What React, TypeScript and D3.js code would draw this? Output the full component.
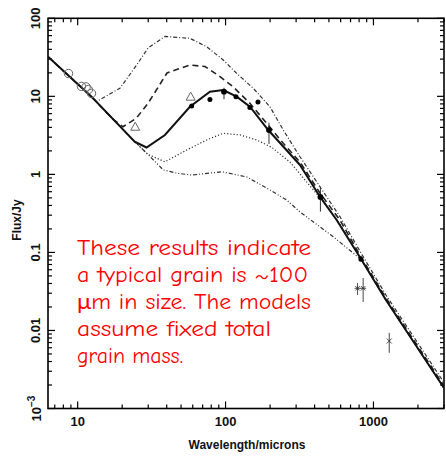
import React from "react";
import * as d3 from "d3";

// ---------- data (wavelength in microns, flux in Jy) ----------
const solidWl = [6.3, 12.4, 24.3, 29.2, 38.9, 57.4, 78.4, 96.5, 118.9, 146.2, 194.4, 318.6, 434.8, 564, 832, 1215, 3000];
const solidFlux = [32.2, 9.9, 2.62, 2.21, 3.2, 7.36, 11.47, 12.06, 9.9, 7.36, 3.7, 1.32, 0.518, 0.26, 0.0799, 0.0246, 0.00183];

const dashedWl = [6.3, 12.4, 17.3, 20.25, 24.9, 29.9, 40.2, 47.7, 57.4, 72.6, 91.7, 112.2, 146.2, 189.7, 245.6, 318.6, 434.8, 593.5, 832, 1215, 3000];
const dashedFlux = [32.2, 9.9, 5.09, 4.08, 5.23, 8.14, 19.9, 22.4, 25.2, 24.1, 17.9, 13.3, 8.14, 4.51, 2.5, 1.44, 0.577, 0.26, 0.0848, 0.026, 0.00195];

const dashDotWl = [6.3, 13.36, 19.3, 24.8, 29.9, 38.9, 57.4, 74.4, 96.5, 118.9, 153.9, 199.6, 245.6, 318.6, 434.8, 593.5, 832, 1215, 3000];
const dashDotFlux = [32.2, 8.54, 12.68, 24.5, 41.6, 58.5, 55.4, 43.3, 29.2, 19.7, 12.68, 7.36, 3.7, 1.68, 0.695, 0.287, 0.0954, 0.0285, 0.00215];

const dottedWl = [6.3, 12.4, 24.3, 29.9, 38.9, 54.6, 74.4, 96.5, 125.2, 162.3, 206, 272.6, 344.3, 448.6, 593.5, 832, 1215, 3000];
const dottedFlux = [32.2, 9.9, 2.62, 1.8, 1.45, 2.05, 2.76, 3.36, 3.2, 2.76, 2.21, 1.44, 0.847, 0.469, 0.231, 0.0799, 0.0246, 0.00183];

const lowestWl = [6.3, 12.4, 24.3, 29.9, 37.9, 47.7, 59.0, 94.6, 139.5, 199.6, 259, 318.6, 534.8, 832, 1215, 3000];
const lowestFlux = [32.2, 9.9, 2.62, 1.8, 1.14, 1.03, 0.98, 1.08, 0.926, 0.631, 0.469, 0.33, 0.159, 0.0799, 0.0246, 0.00183];

// observations
const circleWl = [8.67, 10.6, 11.4, 11.8, 12.4];
const circleFlux = [19.6, 13.4, 13.2, 12.2, 10.9];

const triangleWl = [24.5, 58.1];
const triangleFlux = [4.08, 9.9];

const dotWl = [59.0, 78.4, 97.6, 117.6, 146, 165.6, 196.6, 438, 823];
const dotFlux = [7.52, 9.11, 11.47, 9.9, 7.19, 8.46, 3.7, 0.513, 0.0817];
const dotErrLo = [null, null, 9.17, null, null, null, 2.45, 0.333, null];
const dotErrHi = [null, null, 12.9, null, null, null, 4.59, 0.695, null];

const starWl = [781, 852];
const starFlux = [0.0347, 0.0347];
const starErrLo = [0.0285, 0.0232];
const starErrHi = [0.0406, 0.047];

const crossWl = [1279];
const crossFlux = [0.00733];
const crossErrLo = [0.00517];
const crossErrHi = [0.00932];

const xTickLabels = ["10", "100", "1000"];
const xTickValues = [10, 100, 1000];
const yTickValues = [100, 10, 1, 0.1, 0.01];
const yTickLabels = ["100", "10", "1", "0.1", "0.01"];

const noteLines = [
  "These results indicate",
  "a typical grain is ~100",
  "\u03bcm in size. The models",
  "assume fixed total",
  "grain mass.",
];

// ---------- layout ----------
const W = 446;
const H = 457;
const L = 48, R = 444, T = 18.3, B = 408.5;
const FONT = "'Liberation Sans', Arial, Helvetica, sans-serif";

const x = d3.scaleLog().domain([6.3, 3000]).range([L, R]);
const y = d3.scaleLog().domain([0.001, 100]).range([B, T]);

const lineGen = d3
  .line<[number, number]>()
  .x((d) => x(d[0]))
  .y((d) => y(d[1]));

const zip = (a: number[], b: number[]) => a.map((v, i) => [v, b[i]] as [number, number]);

export default function App() {
  const isMajor = (v: number) => Math.abs(Math.log10(v) - Math.round(Math.log10(v))) < 1e-6;
  const xt = x.ticks().filter((v) => v >= 6.3 && v <= 3000.0001);
  const yt = y.ticks();

  const noteX = 77;
  const noteBase = [255, 282, 309, 336, 363];
  const noteLen = [234, 231, 234, 194, 106];

  return (
    <div style={{ position: "fixed", left: 0, top: 0 }}>
      <svg width={W} height={H} style={{ display: "block", background: "#fff" }}>
        <rect x={0} y={0} width={W} height={H} fill="#fff" />
        <defs>
          <clipPath id="plot">
            <rect x={L} y={T} width={R - L} height={B - T} />
          </clipPath>
        </defs>

        {/* ticks */}
        {xt.map((v, i) => {
          const len = isMajor(v) ? 7 : 4;
          const px = x(v);
          return (
            <g key={"xt" + i} stroke="#000" strokeWidth={1.2}>
              <line x1={px} x2={px} y1={B} y2={B - len} />
              <line x1={px} x2={px} y1={T} y2={T + len} />
            </g>
          );
        })}
        {yt.map((v, i) => {
          const len = isMajor(v) ? 7 : 4;
          const py = y(v);
          return (
            <g key={"yt" + i} stroke="#000" strokeWidth={1.2}>
              <line x1={L} x2={L + len} y1={py} y2={py} />
              <line x1={R} x2={R - len} y1={py} y2={py} />
            </g>
          );
        })}

        {/* frame */}
        <rect x={L} y={T} width={R - L} height={B - T} fill="none" stroke="#000" strokeWidth={1.6} />

        {/* x tick labels */}
        {xTickValues.map((v, i) => (
          <text key={"xl" + i} x={x(v)} y={426} textAnchor="middle" fontFamily={FONT} fontSize={13} fontWeight="bold" fill="#111">
            {xTickLabels[i]}
          </text>
        ))}
        {/* y tick labels (rotated) */}
        {yTickValues.map((v, i) => (
          <text
            key={"yl" + i}
            transform={`translate(40,${y(v)}) rotate(-90)`}
            textAnchor="middle"
            fontFamily={FONT}
            fontSize={13}
            fontWeight="bold"
            fill="#111"
          >
            {yTickLabels[i]}
          </text>
        ))}
        <text transform={`translate(41,${y(0.001)}) rotate(-90)`} textAnchor="middle" fontFamily={FONT} fontSize={13} fontWeight="bold" fill="#111">
          10
          <tspan dy={-6} fontSize={10}>
            {"\u22123"}
          </tspan>
        </text>

        {/* axis titles */}
        <text x={247} y={449} textAnchor="middle" fontFamily={FONT} fontSize={12} fontWeight="bold" fill="#111">
          Wavelength/microns
        </text>
        <text transform="translate(21,220) rotate(-90)" textAnchor="middle" fontFamily={FONT} fontSize={12} fontWeight="bold" fill="#111">
          Flux/Jy
        </text>

        {/* model curves */}
        <g clipPath="url(#plot)" fill="none">
          <path d={lineGen(zip(lowestWl, lowestFlux)) || ""} stroke="#333" strokeWidth={1.2} strokeDasharray="4,2,1,2,1,2" />
          <path d={lineGen(zip(dottedWl, dottedFlux)) || ""} stroke="#333" strokeWidth={1.2} strokeDasharray="1.2,2" />
          <path d={lineGen(zip(dashDotWl, dashDotFlux)) || ""} stroke="#333" strokeWidth={1.2} strokeDasharray="4,2,1,2" />
          <path d={lineGen(zip(dashedWl, dashedFlux)) || ""} stroke="#222" strokeWidth={1.6} strokeDasharray="6,4" />
          <path d={lineGen(zip(solidWl, solidFlux)) || ""} stroke="#111" strokeWidth={2} />
        </g>

        {/* observations */}
        <g>
          {circleWl.map((w, i) => (
            <circle key={"c" + i} cx={x(w)} cy={y(circleFlux[i])} r={4.2} fill="none" stroke="#666" strokeWidth={1} />
          ))}
          {triangleWl.map((w, i) => {
            const cx = x(w);
            const cy = y(triangleFlux[i]);
            return (
              <path
                key={"t" + i}
                d={`M${cx},${cy - 4.5} L${cx + 4.5},${cy + 3.5} L${cx - 4.5},${cy + 3.5} Z`}
                fill="none"
                stroke="#666"
                strokeWidth={1}
              />
            );
          })}
          {dotWl.map((w, i) => {
            const cx = x(w);
            const lo = dotErrLo[i];
            const hi = dotErrHi[i];
            return (
              <g key={"d" + i}>
                {lo != null && hi != null && <line x1={cx} x2={cx} y1={y(lo)} y2={y(hi)} stroke="#333" strokeWidth={1} />}
                <circle cx={cx} cy={y(dotFlux[i])} r={lo != null ? 2.9 : 2.5} fill="#000" />
              </g>
            );
          })}
          {starWl.map((w, i) => {
            const cx = x(w);
            const cy = y(starFlux[i]);
            return (
              <g key={"s" + i} stroke="#333" strokeWidth={0.9}>
                <line x1={cx} x2={cx} y1={y(starErrLo[i])} y2={y(starErrHi[i])} />
                <line x1={cx - 3} x2={cx + 3} y1={cy} y2={cy} />
                <line x1={cx - 2.2} x2={cx + 2.2} y1={cy - 2.2} y2={cy + 2.2} />
                <line x1={cx - 2.2} x2={cx + 2.2} y1={cy + 2.2} y2={cy - 2.2} />
              </g>
            );
          })}
          {crossWl.map((w, i) => {
            const cx = x(w);
            const cy = y(crossFlux[i]);
            return (
              <g key={"x" + i} stroke="#333" strokeWidth={0.9}>
                <line x1={cx} x2={cx} y1={y(crossErrLo[i])} y2={y(crossErrHi[i])} />
                <line x1={cx - 2.5} x2={cx + 2.5} y1={cy - 2.5} y2={cy + 2.5} />
                <line x1={cx - 2.5} x2={cx + 2.5} y1={cy + 2.5} y2={cy - 2.5} />
              </g>
            );
          })}
        </g>

        {/* annotation */}
        {noteLines.map((t, i) => (
          <text
            key={"n" + i}
            x={noteX}
            y={noteBase[i]}
            fontFamily="'Comic Sans MS', 'Comic Neue', Lato, 'Open Sans', sans-serif"
            fontSize={22}
            fill="#ff0000"
            textLength={noteLen[i]}
            lengthAdjust="spacingAndGlyphs"
          >
            {t}
          </text>
        ))}
      </svg>
    </div>
  );
}
